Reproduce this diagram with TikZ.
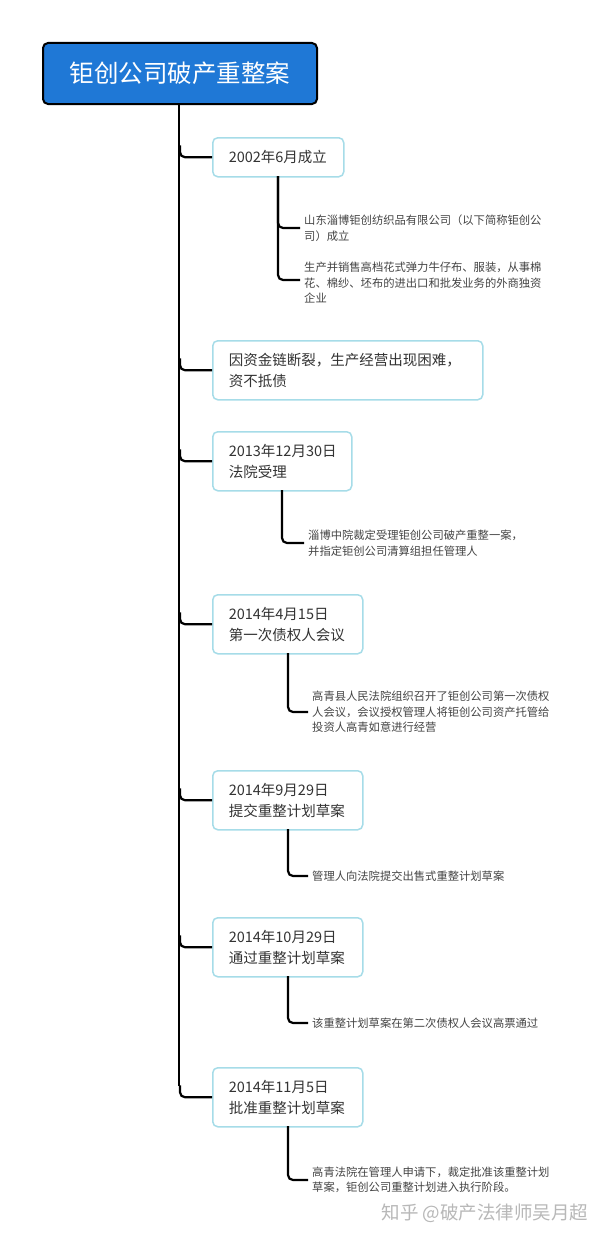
\documentclass[tikz,border=0pt]{standalone}
\usepackage{fontspec}
\setmainfont{Noto Sans CJK SC}
\definecolor{rootblue}{HTML}{1F78D6}
\definecolor{boxline}{HTML}{A6DCE8}
\definecolor{leaftext}{HTML}{444444}
\begin{document}
\begin{tikzpicture}[x=1pt,y=-1pt,
  root/.style={draw=black,line width=2pt,fill=rootblue,rounded corners=5,text=white,font=\fontsize{24.5}{28}\selectfont,minimum width=274,minimum height=61,anchor=north west,inner sep=0},
  box/.style={draw=boxline,line width=1.5pt,fill=white,rounded corners=5,anchor=north west,align=left,font=\fontsize{14.5}{21}\selectfont,text=black!80,inner xsep=16,inner ysep=0,minimum height=59,text width=#1},
  leaf/.style={anchor=west,align=left,font=\fontsize{11.3}{15.5}\selectfont,text=leaftext,inner sep=0},
  conn/.style={line width=2.2pt,rounded corners=5},
  wmark/.style={font=\fontsize{18.5}{22}\selectfont,text=black!28,anchor=center}]
\useasboundingbox (0,0) rectangle (600,1239);
\fill[white] (0,0) rectangle (600,1239);
\node[root] (r) at (42,42) {钜创公司破产重整案};
\coordinate (tend) at (179,1086);
\draw[line width=2.2pt] (179,103) -- (tend);

\node[box=99,minimum height=39] (b1) at (212,137) {2002年6月成立};
\node[box=238] (b2) at (212,340) {因资金链断裂，生产经营出现困难，\\资不抵债};
\node[box=107] (b3) at (212,431) {2013年12月30日\\法院受理};
\node[box=118] (b4) at (212,594) {2014年4月15日\\第一次债权人会议};
\node[box=118] (b5) at (212,770) {2014年9月29日\\提交重整计划草案};
\node[box=118] (b6) at (212,917) {2014年10月29日\\通过重整计划草案};
\node[box=118] (b7) at (212,1067) {2014年11月5日\\批准重整计划草案};

\foreach \b in {b1,b2,b3,b4,b5,b6,b7}{
  \draw[conn] ([yshift=12]r.south |- \b.west) |- (\b.west);
}

\node[leaf] (l1) at (304,228) {山东淄博钜创纺织品有限公司（以下简称钜创公\\司）成立};
\node[leaf] (l2) at (304,283) {生产并销售高档花式弹力牛仔布、服装，从事棉\\花、棉纱、坯布的进出口和批发业务的外商独资\\企业};
\node[leaf] (l3) at (308,543) {淄博中院裁定受理钜创公司破产重整一案，\\并指定钜创公司清算组担任管理人};
\node[leaf] (l4) at (312,712) {高青县人民法院组织召开了钜创公司第一次债权\\人会议，会议授权管理人将钜创公司资产托管给\\投资人高青如意进行经营};
\node[leaf] (l5) at (312,876) {管理人向法院提交出售式重整计划草案};
\node[leaf] (l6) at (312,1023) {该重整计划草案在第二次债权人会议高票通过};
\node[leaf] (l7) at (312,1180) {高青法院在管理人申请下，裁定批准该重整计划\\草案，钜创公司重整计划进入执行阶段。};

\coordinate (s1) at (278,176);
\draw[conn] (s1) |- ([xshift=-4]l1.west);
\draw[conn] (s1) |- ([xshift=-4,yshift=3]l2.west);
\draw[conn] (282,490) |- ([xshift=-4]l3.west);
\draw[conn] (288,653) |- ([xshift=-4]l4.west);
\draw[conn] (288,829) |- ([xshift=-4]l5.west);
\draw[conn] (288,976) |- ([xshift=-4]l6.west);
\draw[conn] (288,1126) |- ([xshift=-4]l7.west);

\node[wmark] (wm) at (485,1213) {知乎 @破产法律师吴月超};
\end{tikzpicture}
\end{document}
